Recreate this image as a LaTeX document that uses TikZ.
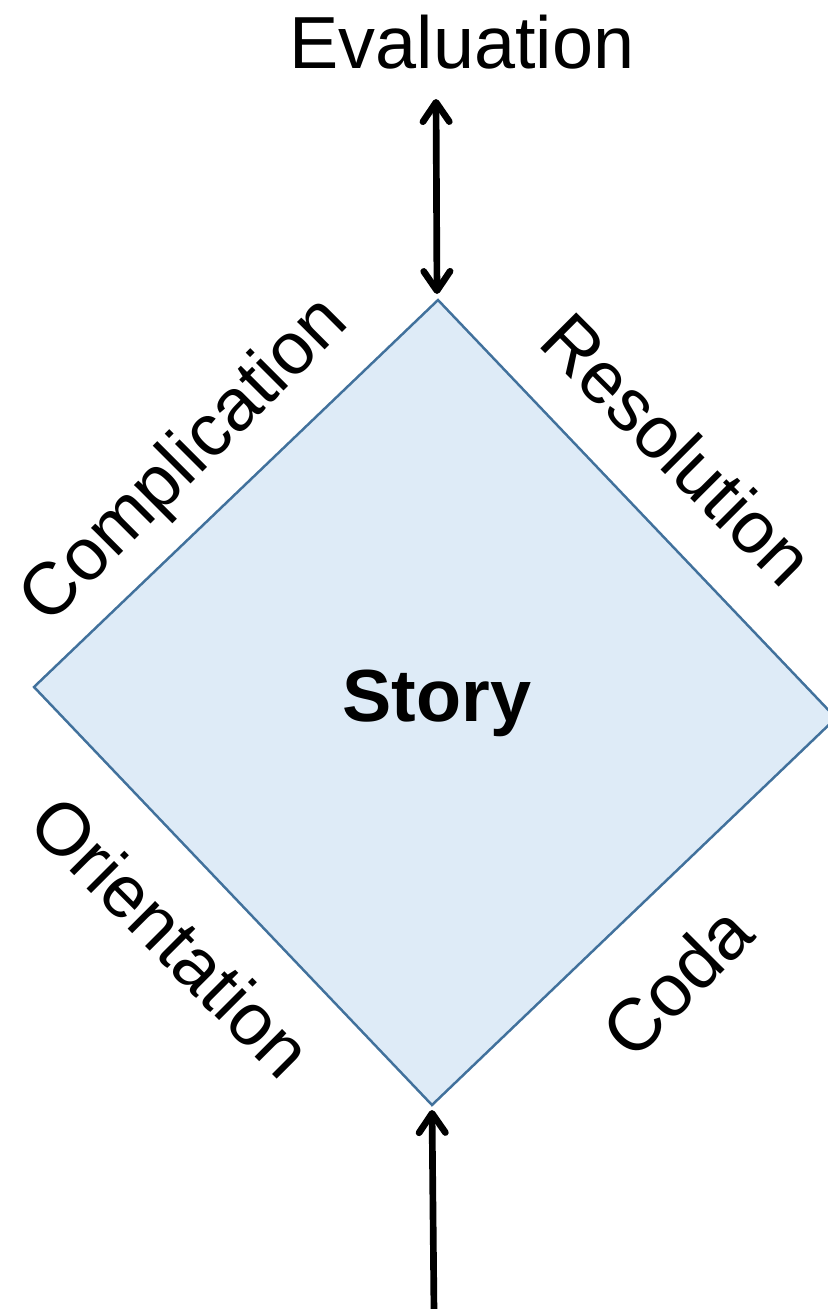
\documentclass[tikz,border=0pt]{standalone}
\usepackage{fontspec}
\setmainfont{Liberation Sans}
\usetikzlibrary{arrows.meta}
\definecolor{storyfill}{HTML}{DEEBF7}
\definecolor{storyline}{HTML}{41719C}
\begin{document}
\begin{tikzpicture}[x=0.02cm,y=-0.02cm,font=\fontsize{42}{50}\selectfont,
  label/.style={inner sep=0pt},
  barb/.tip={Straight Barb[round,length=11pt,width=15pt]},
  flow/.style={line width=3.8pt,line cap=round}]
\clip (0,0) rectangle (828,1309);

% diamond
\coordinate (top) at (438,300);
\coordinate (right) at (836,718);
\coordinate (bottom) at (432,1105);
\coordinate (left) at (34,687);
\draw [fill=storyfill, draw=storyline, line width=1.4pt] (top) -- (right) -- (bottom) -- (left) -- cycle;
\node (story) [label, anchor=base] at (437,721) {\bfseries Story};

% sides
\node (complication) [label, rotate=45] at (186,462) {Complication};
\node (resolution) [label, rotate=-45] at (678,449) {Resolution};
\node (orientation) [label, rotate=-45] at (172,936) {Orientation};
\node (coda) [label, rotate=45] at (677,981) {Coda};

% evaluation
\node (evaluation) [label, anchor=base] at (462,68) {Evaluation};
\coordinate (evaltop) at (436,99);
\coordinate (evalbot) at (437,294);
\draw [flow, barb-barb] (evaltop) -- (evalbot);

% input
\coordinate (start) at (434,1312);
\coordinate (end) at (432,1110);
\draw [flow, -barb] (start) -- (end);

\end{tikzpicture}
\end{document}
